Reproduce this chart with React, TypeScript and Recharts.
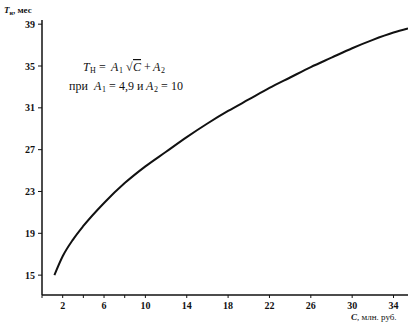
import React from "react";
import { LineChart, Line, XAxis, YAxis } from "recharts";

const costC = [1.2, 2, 3, 4, 6, 8, 10, 12, 14, 16, 18, 20, 22, 24, 26, 28, 30, 32, 34, 35.4];
const termT = [15.0, 16.8, 18.4, 19.7, 21.9, 23.8, 25.4, 26.8, 28.2, 29.5, 30.7, 31.8, 32.9, 33.9, 34.9, 35.8, 36.7, 37.5, 38.2, 38.6];
const xTicks = [0, 2, 4, 6, 8, 10, 12, 14, 16, 18, 20, 22, 24, 26, 28, 30, 32, 34];
const xLabeled = [2, 6, 10, 14, 18, 22, 26, 30, 34];
const yTicks = [15, 17, 19, 21, 23, 25, 27, 29, 31, 33, 35, 37, 39];
const yLabeled = [15, 19, 23, 27, 31, 35, 39];

const data = costC.map((c, i) => ({ c, t: termT[i] }));
const FONT = "'Liberation Serif', 'DejaVu Serif', serif";

const XTick = (props: any) => {
  const { x, y, payload } = props;
  if (!xLabeled.includes(payload.value)) return null;
  return (
    <text x={x} y={y + 9} textAnchor="middle" fontFamily={FONT} fontSize={10} fontWeight="bold" fill="#111">
      {payload.value}
    </text>
  );
};

const YTick = (props: any) => {
  const { x, y, payload } = props;
  if (!yLabeled.includes(payload.value)) return null;
  return (
    <text x={x - 1} y={y + 3.5} textAnchor="end" fontFamily={FONT} fontSize={10} fontWeight="bold" fill="#111">
      {payload.value}
    </text>
  );
};

export default function App() {
  return (
    <div style={{ position: "absolute", left: 0, top: 0, width: 413, height: 328, background: "#fff" }}>
      <LineChart width={413} height={328} data={data} margin={{ top: 20, right: 5, bottom: 13, left: 0 }}>
        <XAxis
          dataKey="c"
          type="number"
          domain={[0, 35.4]}
          ticks={xTicks}
          tick={<XTick />}
          tickSize={3}
          axisLine={{ stroke: "#111", strokeWidth: 1.5 }}
          tickLine={{ stroke: "#111" }}
          height={20}
          allowDataOverflow
        />
        <YAxis
          dataKey="t"
          type="number"
          domain={[13.1, 39.4]}
          ticks={yTicks}
          tick={<YTick />}
          tickSize={4}
          axisLine={{ stroke: "#111", strokeWidth: 1.5 }}
          tickLine={{ stroke: "#111" }}
          width={42}
          allowDataOverflow
        />
        <Line
          dataKey="t"
          type="monotone"
          stroke="#111"
          strokeWidth={2}
          dot={false}
          isAnimationActive={false}
        />
      </LineChart>
      <svg
        width={413}
        height={328}
        style={{ position: "absolute", left: 0, top: 0, pointerEvents: "none" }}
        fontFamily={FONT}
        fill="#111"
      >
        <text x={4} y={13} fontSize={9} fontWeight="bold">
          <tspan fontStyle="italic">T</tspan>
          <tspan fontSize={6} dy={2}>н</tspan>
          <tspan dy={-2}>, мес</tspan>
        </text>
        <text x={351} y={320} fontSize={9}>
          <tspan fontStyle="italic" fontWeight="bold">C</tspan>
          <tspan>, млн. руб.</tspan>
        </text>
        <text y={71} fontSize={12}>
          <tspan x={83} fontStyle="italic">T</tspan>
          <tspan x={90} dy={2} fontSize={8}>Н</tspan>
          <tspan x={99} dy={-2}>=</tspan>
          <tspan x={111} fontStyle="italic">A</tspan>
          <tspan x={119} dy={2} fontSize={8}>1</tspan>
          <tspan x={126} dy={-2}>√</tspan>
          <tspan x={133} fontStyle="italic" textDecoration="overline">C</tspan>
          <tspan x={144}>+</tspan>
          <tspan x={153} fontStyle="italic">A</tspan>
          <tspan x={161} dy={2} fontSize={8}>2</tspan>
        </text>
        <text y={90} fontSize={12}>
          <tspan x={69}>при</tspan>
          <tspan x={94} fontStyle="italic">A</tspan>
          <tspan x={102} dy={2} fontSize={8}>1</tspan>
          <tspan x={109} dy={-2}>=</tspan>
          <tspan x={119}>4,9</tspan>
          <tspan x={137}>и</tspan>
          <tspan x={146} fontStyle="italic">A</tspan>
          <tspan x={154} dy={2} fontSize={8}>2</tspan>
          <tspan x={161} dy={-2}>=</tspan>
          <tspan x={171}>10</tspan>
        </text>
      </svg>
    </div>
  );
}
